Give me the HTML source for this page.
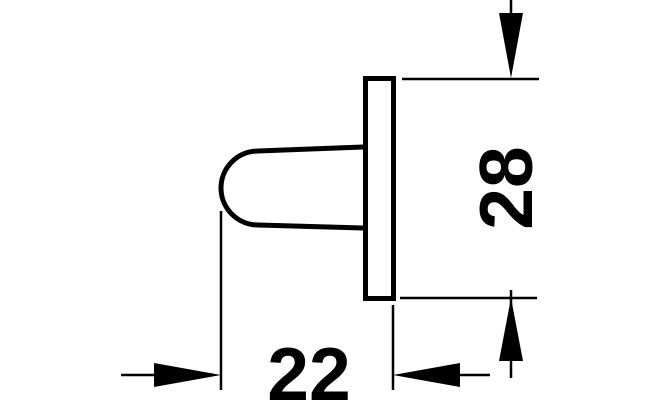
<!DOCTYPE html>
<html><head><style>html,body{margin:0;padding:0;background:#fff;overflow:hidden}svg{display:block}</style></head>
<body>
<svg width="660" height="400" viewBox="0 0 660 400" xmlns="http://www.w3.org/2000/svg">
<g fill="none" stroke="#000">
<rect x="365.5" y="78.5" width="28" height="220" stroke-width="5"/>
<path d="M363 147 L258 151 A37 37 0 0 0 258 225 L363 228" stroke-width="5"/>
<line x1="364" y1="157" x2="364" y2="218" stroke-width="1.5"/>
<line x1="402" y1="79" x2="539" y2="79" stroke-width="2.5"/>
<line x1="400" y1="298" x2="537" y2="298" stroke-width="2.5"/>
<line x1="511" y1="0" x2="511" y2="20" stroke-width="2.5"/>
<line x1="511" y1="290" x2="511" y2="378" stroke-width="2.5"/>
<line x1="221" y1="211" x2="221" y2="390" stroke-width="2.5"/>
<line x1="393" y1="305" x2="393" y2="390" stroke-width="2.5"/>
<line x1="121" y1="375" x2="160" y2="375" stroke-width="2.5"/>
<line x1="460" y1="375" x2="490" y2="375" stroke-width="2.5"/>
</g>
<g fill="#000">
<polygon points="499,13 523,13 511,78"/>
<polygon points="499,361 523,361 511,298"/>
<polygon points="154,363 154,387 221,375"/>
<polygon points="460,363 460,387 393,375"/>
<text x="309" y="400" font-family="Liberation Sans, sans-serif" font-weight="bold" font-size="75" text-anchor="middle">22</text>
<text transform="translate(532,188) rotate(-90)" x="0" y="0" font-family="Liberation Sans, sans-serif" font-weight="bold" font-size="75" text-anchor="middle">28</text>
</g>
</svg>
</body></html>
